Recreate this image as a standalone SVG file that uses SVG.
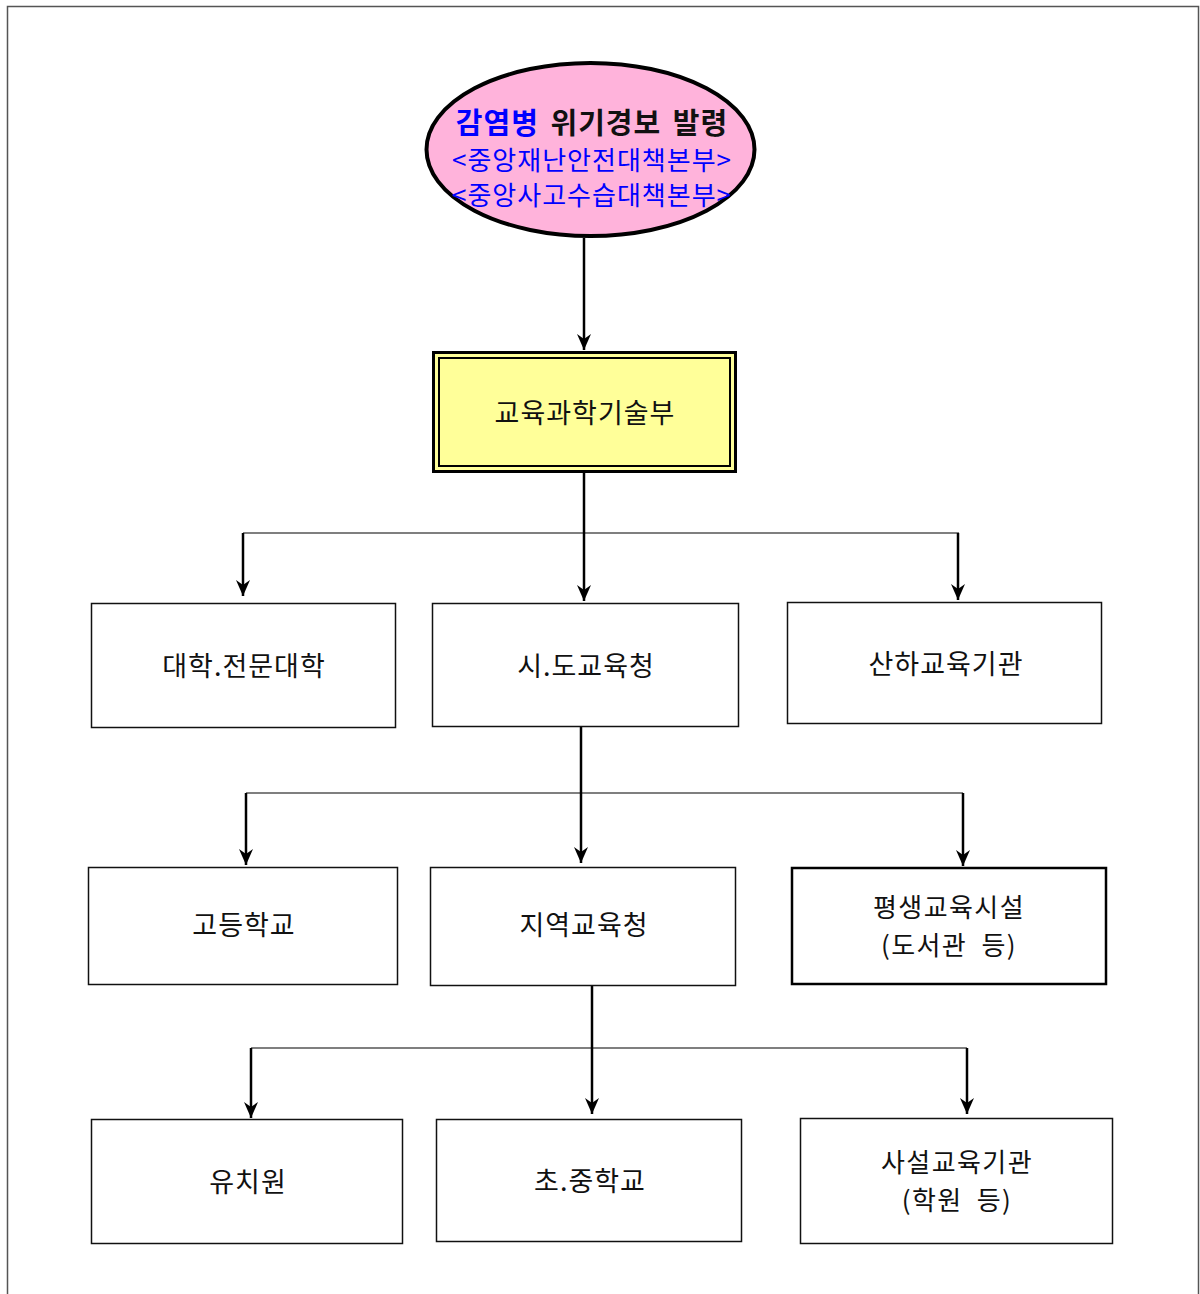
<svg xmlns="http://www.w3.org/2000/svg" width="1200" height="1294" viewBox="0 0 1200 1294">
<defs>
<marker id="ah" viewBox="0 0 16 14" refX="16" refY="7" markerWidth="16" markerHeight="14" markerUnits="userSpaceOnUse" orient="auto">
<path d="M0,0 L16,7 L0,14 L5,7 z" fill="#000"/>
</marker>
<style>
.t{font-family:"Noto Sans CJK KR","Liberation Sans",sans-serif;font-size:27px;letter-spacing:1px;word-spacing:7px;fill:#111;text-anchor:middle;dominant-baseline:central}
.t2{font-size:26px;letter-spacing:1.4px}
.box{fill:#fff;stroke:#111;stroke-width:1.5}
.h{stroke:#000;stroke-width:1.2;fill:none}
.arr{stroke:#000;stroke-width:2.5;fill:none;marker-end:url(#ah)}
</style>
</defs>
<rect x="0" y="0" width="1200" height="1294" fill="#fff"/>
<rect x="7.5" y="6.5" width="1191" height="1300" fill="none" stroke="#555" stroke-width="1.5"/>

<g id="connectors">
<line class="arr" x1="584" y1="238" x2="584" y2="350"/>
<line class="arr" x1="584" y1="472" x2="584" y2="601"/>
<line class="h" x1="243" y1="533" x2="959" y2="533"/>
<line class="arr" x1="243" y1="533" x2="243" y2="596"/>
<line class="arr" x1="958" y1="533" x2="958" y2="600"/>
<line class="arr" x1="581" y1="727" x2="581" y2="863"/>
<line class="h" x1="246" y1="793" x2="963" y2="793"/>
<line class="arr" x1="246" y1="793" x2="246" y2="865"/>
<line class="arr" x1="963" y1="793" x2="963" y2="866"/>
<line class="arr" x1="592" y1="986" x2="592" y2="1114"/>
<line class="h" x1="251" y1="1048" x2="967" y2="1048"/>
<line class="arr" x1="251" y1="1048" x2="251" y2="1118"/>
<line class="arr" x1="967" y1="1048" x2="967" y2="1114"/>
</g>

<g id="n_alert">
<ellipse cx="590.5" cy="149.5" rx="164" ry="86.5" fill="#FFB3DB" stroke="#000" stroke-width="4"/>
<text class="t" x="592" y="121" style="font-size:29px;font-weight:bold;word-spacing:4px"><tspan fill="#0000FF">감염병</tspan> 위기경보 발령</text>
<text class="t" x="592" y="158" style="fill:#0000FF;font-size:26px">&lt;중앙재난안전대책본부&gt;</text>
<text class="t" x="592" y="193" style="fill:#0000FF;font-size:26px">&lt;중앙사고수습대책본부&gt;</text>
</g>

<g id="n_moe">
<rect x="433.5" y="352.5" width="302" height="119" fill="#FFFF99" stroke="#000" stroke-width="3"/>
<rect x="439" y="358" width="291" height="108" fill="none" stroke="#000" stroke-width="2"/>
<text class="t" x="585" y="411">교육과학기술부</text>
</g>

<g id="n_univ">
<rect class="box" x="91.5" y="603.5" width="304" height="124"/>
<text class="t" x="244" y="664">대학.전문대학</text>
</g>
<g id="n_sido">
<rect class="box" x="432.5" y="603.5" width="306" height="123"/>
<text class="t" x="586" y="664">시.도교육청</text>
</g>
<g id="n_sanha">
<rect class="box" x="787.5" y="602.5" width="314" height="121"/>
<text class="t" x="946" y="662">산하교육기관</text>
</g>

<g id="n_high">
<rect class="box" x="88.5" y="867.5" width="309" height="117"/>
<text class="t" x="244" y="923">고등학교</text>
</g>
<g id="n_local">
<rect class="box" x="430.5" y="867.5" width="305" height="118"/>
<text class="t" x="584" y="923">지역교육청</text>
</g>
<g id="n_lifelong">
<rect x="792" y="868" width="314" height="116" fill="#fff" stroke="#000" stroke-width="2.5"/>
<text class="t t2" x="949" y="905">평생교육시설</text>
<text class="t t2" x="949" y="943">(도서관 등)</text>
</g>

<g id="n_kinder">
<rect class="box" x="91.5" y="1119.5" width="311" height="124"/>
<text class="t" x="248" y="1180">유치원</text>
</g>
<g id="n_school">
<rect class="box" x="436.5" y="1119.5" width="305" height="122"/>
<text class="t" x="590" y="1179">초.중학교</text>
</g>
<g id="n_private">
<rect class="box" x="800.5" y="1118.5" width="312" height="125"/>
<text class="t t2" x="957" y="1160">사설교육기관</text>
<text class="t t2" x="957" y="1198">(학원 등)</text>
</g>
</svg>
